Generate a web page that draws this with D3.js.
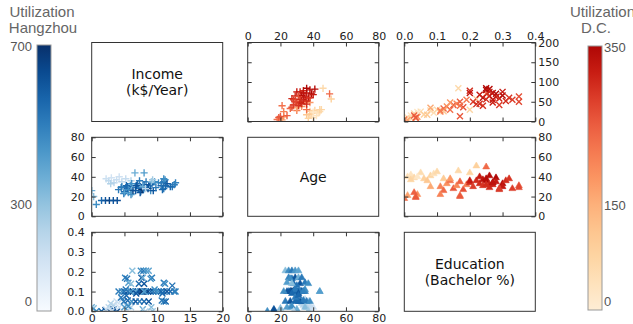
<!DOCTYPE html>
<html>
<head>
<meta charset="utf-8">
<script src="https://cdn.jsdelivr.net/npm/d3@7"></script>
<style>
  body { margin: 0; background: #fff; }
  svg { display: block; }
</style>
</head>
<body>
<svg id="chart" width="633" height="324"></svg>
<script>
// ---- Hangzhou records (income k$/yr, age, bachelor share, utilization)
const hzIncome = [1.5,2.1,2.7,3.3,3.9, 0,0.3,0.7,
  2.2,2.6,3.0,3.4,3.8,4.2,2.9,4.6,5.2,6.0,
  6.2,7.5,7.9,8.3,8.7, 5.1,5.4,7.6,7.8,9.2,9.0,
  5.6,7.2,8.0,11.0,11.2,12.3,6.0,
  4.1,4.6,5.0,5.5,5.9,6.3,6.7,7.0,7.4,7.7,8.0,8.3,8.6,9.0,9.4,9.8,10.2,10.6,11.0,11.5,12.0,12.6,6.0,6.6,8.0,5.2,6.8,9.6,10.8,12.8,
  4.9,5.5,6.1,6.7,7.3,8.0,8.7,11.0,10.7,11.3,4.5,5.3,
  5.0,5.6,7.8,9.1,9.3,8.2];
const hzAge = [16,16,16,16,16, 26,20,12,
  38,36,39,34,37,40,33,35,38,36,
  23,25,27,29,31, 25,27,29,31,33,26,
  24,28,32,35,37,30,27,
  27,30,25,28,31,26,29,33,24,27,30,35,28,32,26,29,34,31,28,33,30,32,22,44,44,29,31,35,27,34,
  23,30,33,26,36,29,32,38,34,31,29,31,
  24,27,30,35,37,28];
const hzEdu = [0.0,0.005,0.0,0.01,0.0, 0.02,0.015,0.0,
  0.01,0.02,0.0,0.03,0.05,0.02,0.04,0.06,0.03,0.02,
  0.205,0.205,0.205,0.205,0.205, 0.17,0.165,0.17,0.17,0.17,0.165,
  0.145,0.14,0.14,0.145,0.14,0.13,0.14,
  0.1,0.1,0.1,0.1,0.1,0.1,0.1,0.1,0.1,0.1,0.1,0.1,0.1,0.1,0.1,0.1,0.1,0.1,0.1,0.1,0.1,0.1,0.1,0.1,0.1,0.11,0.09,0.11,0.09,0.1,
  0.05,0.055,0.05,0.05,0.05,0.05,0.05,0.05,0.055,0.05,0.07,0.08,
  0.02,0.025,0.01,0.02,0.0,0.0];
const hzUtil = [550,600,650,600,620, 350,300,450,
  150,180,130,200,160,140,220,190,170,210,
  300,450,500,420,380, 480,520,600,350,500,450,
  400,550,600,500,450,520,300,
  500,450,550,600,400,650,500,550,600,700,450,500,650,550,600,500,450,550,500,600,550,500,450,350,400,500,600,450,550,480,
  500,550,450,600,500,550,600,450,500,550,500,550,
  400,450,350,300,250,200];

// ---- Washington D.C. records
const dcIncome = [10,15,20,25,18,28,22,30,26,24,17,8,
  5,8,12,15,4,10,
  28,33,38,30,42,45,50,36,55,48,25,40,13,35,
  84,57,30,70,
  78,72,50,45,60,84,80,75,65,55,40,70,62,58,48,66,75,52,60,55,63,50,44,68,82,72,42,56];
const dcAge = [40,42,39,44,38,41,43,45,38,40,36,37,
  18,20,22,24,21,19,
  30,26,33,36,28,31,35,27,32,38,22,21,20,30,
  46,51,44,50,
  34,36,30,33,37,36,38,32,29,34,31,39,35,27,32,33,30,36,38,28,31,29,36,40,41,34,28,32];
const dcEdu = [0.01,0.02,0.03,0.05,0.06,0.08,0.09,0.1,0.12,0.04,0.07,0.02,
  0.0,0.035,0.04,0.03,0.01,0.035,
  0.11,0.12,0.13,0.14,0.15,0.16,0.17,0.18,0.19,0.14,0.11,0.17,0.17,0.08,
  0.165,0.22,0.2,0.25,
  0.2,0.2,0.21,0.23,0.24,0.25,0.25,0.26,0.26,0.27,0.24,0.28,0.28,0.29,0.27,0.3,0.3,0.31,0.32,0.33,0.35,0.35,0.22,0.23,0.26,0.27,0.29,0.25];
const dcUtil = [40,30,60,50,80,70,40,60,90,20,100,70,
  220,200,180,240,160,250,
  200,230,180,220,250,190,240,260,210,170,200,220,250,150,
  60,80,70,230,
  300,320,280,300,330,350,340,310,300,330,290,350,320,300,310,340,320,300,290,280,260,270,300,320,340,330,280,300];

// ---- axis ticks
const incomeTicksHz = [0, 5, 10, 15, 20];
const incomeTicksDc = [0, 50, 100, 150, 200];
const ageTicks = [0, 20, 40, 60, 80];
const eduTicks = [0, 0.1, 0.2, 0.3, 0.4];
const hzBarTicks = [0, 300, 700];
const dcBarTicks = [0, 150, 350];

const svg = d3.select("#chart");
const colX = [91.7, 247.7, 404.3], rowY = [42.5, 137.3, 232.3];
const pw = 131, ph = 79;
const tickFont = "'DejaVu Sans', sans-serif";

const hzColor = d3.scaleSequential(d3.interpolateBlues).domain([0, 700]);
const dcColor = d3.scaleSequential(t => d3.interpolateOrRd(0.08 + t * 0.8)).domain([0, 350]);

const vars = {
  hzIncome: { domain: [0, 20], ticks: incomeTicksHz, fmt: d3.format("d") },
  dcIncome: { domain: [0, 200], ticks: incomeTicksDc, fmt: d3.format("d") },
  age: { domain: [0, 80], ticks: ageTicks, fmt: d3.format("d") },
  edu: { domain: [0, 0.4], ticks: eduTicks, fmt: d3.format(".1f") }
};

const hzData = hzIncome.map((d, i) => ({ hzIncome: d, age: hzAge[i], edu: hzEdu[i], util: hzUtil[i] }));
const dcData = dcIncome.map((d, i) => ({ dcIncome: d, age: dcAge[i], edu: dcEdu[i], util: dcUtil[i] }));

// marker paths
const plusPath = "M-3.6,0H3.6M0,-3.6V3.6";
const crossPath = "M-3,-3L3,3M-3,3L3,-3";
const triPath = d3.symbol().type(d3.symbolTriangle).size(20)();

const panels = [
  { r: 0, c: 1, x: "age", y: "dcIncome", data: dcData, color: dcColor, mk: "plus", lab: ["top"] },
  { r: 0, c: 2, x: "edu", y: "dcIncome", data: dcData, color: dcColor, mk: "cross", lab: ["top", "right"] },
  { r: 1, c: 0, x: "hzIncome", y: "age", data: hzData, color: hzColor, mk: "plus", lab: ["left"] },
  { r: 1, c: 2, x: "edu", y: "age", data: dcData, color: dcColor, mk: "tri", lab: ["right"] },
  { r: 2, c: 0, x: "hzIncome", y: "edu", data: hzData, color: hzColor, mk: "cross", lab: ["left", "bottom"] },
  { r: 2, c: 1, x: "age", y: "edu", data: hzData, color: hzColor, mk: "tri", lab: ["bottom"] }
];

const defs = svg.append("defs");

panels.forEach((p, k) => {
  const x0 = colX[p.c], y0 = rowY[p.r];
  const xv = vars[p.x], yv = vars[p.y];
  const xs = d3.scaleLinear().domain(xv.domain).range([0, pw]);
  const ys = d3.scaleLinear().domain(yv.domain).range([ph, 0]);
  const g = svg.append("g").attr("transform", `translate(${x0},${y0})`);

  defs.append("clipPath").attr("id", "clip" + k)
    .append("rect").attr("width", pw).attr("height", ph);

  const pts = g.append("g").attr("clip-path", `url(#clip${k})`)
    .selectAll("path").data(p.data).join("path")
    .attr("transform", d => `translate(${xs(d[p.x])},${ys(d[p.y])})`)
    .attr("d", p.mk === "plus" ? plusPath : p.mk === "cross" ? crossPath : triPath);
  if (p.mk === "tri") {
    pts.attr("fill", d => p.color(d.util)).attr("stroke", d => p.color(d.util)).attr("stroke-width", 0.6);
  } else {
    pts.attr("fill", "none").attr("stroke", d => p.color(d.util)).attr("stroke-width", 1.4);
  }

  // inward ticks on every side, labels only where the reference shows them
  const sides = [
    ["left", d3.axisLeft(ys).tickValues(yv.ticks), yv, `translate(0,0)`],
    ["right", d3.axisRight(ys).tickValues(yv.ticks), yv, `translate(${pw},0)`],
    ["top", d3.axisTop(xs).tickValues(xv.ticks), xv, `translate(0,0)`],
    ["bottom", d3.axisBottom(xs).tickValues(xv.ticks), xv, `translate(0,${ph})`]
  ];
  sides.forEach(([side, ax, v, tr]) => {
    const show = p.lab.includes(side);
    ax.tickSizeInner(-4).tickSizeOuter(0)
      .tickPadding(side === "left" ? 7 : 3)
      .tickFormat(show ? v.fmt : () => "");
    const a = g.append("g").attr("transform", tr).call(ax);
    a.select(".domain").remove();
    a.selectAll("line").attr("stroke", "#333");
    a.selectAll("text").attr("font-family", tickFont).attr("font-size", 11).attr("fill", "#222");
  });

  g.append("rect").attr("width", pw).attr("height", ph)
    .attr("fill", "none").attr("stroke", "#333").attr("stroke-width", 1);
});

// diagonal label panels
const diagLabels = [["Income", "(k$/Year)"], ["Age"], ["Education", "(Bachelor %)"]];
diagLabels.forEach((lines, i) => {
  const g = svg.append("g").attr("transform", `translate(${colX[i]},${rowY[i]})`);
  g.append("rect").attr("width", pw).attr("height", ph)
    .attr("fill", "none").attr("stroke", "#333").attr("stroke-width", 1);
  const t = g.append("text").attr("x", pw / 2).attr("y", ph / 2 + 1 - (lines.length - 1) * 8)
    .attr("text-anchor", "middle").attr("dominant-baseline", "middle")
    .attr("font-family", tickFont).attr("font-size", 14).attr("fill", "#111");
  lines.forEach((s, j) => t.append("tspan").attr("x", pw / 2).attr("dy", j === 0 ? 0 : 16).text(s));
});

// colour bars
function colorBar(x, y0, y1, interp, ticks, maxV, labelSide, title) {
  const id = "grad" + labelSide;
  const grad = defs.append("linearGradient").attr("id", id)
    .attr("x1", 0).attr("y1", 1).attr("x2", 0).attr("y2", 0);
  d3.range(0, 1.0001, 0.1).forEach(t =>
    grad.append("stop").attr("offset", t).attr("stop-color", interp(t)));
  svg.append("rect").attr("x", x).attr("y", y0).attr("width", 14).attr("height", y1 - y0)
    .attr("fill", `url(#${id})`).attr("stroke", "#999").attr("stroke-width", 1);

  const pos = d3.scalePow().exponent(1.14).domain([0, maxV]).range([303, y0 + 3]);
  svg.append("g").selectAll("text").data(ticks).join("text")
    .attr("x", labelSide === "left" ? x - 5 : x + 16)
    .attr("y", d => pos(d))
    .attr("text-anchor", labelSide === "left" ? "end" : "start")
    .attr("dominant-baseline", "middle")
    .attr("font-family", "'Liberation Sans', Arial, sans-serif").attr("font-size", 13)
    .attr("fill", "#555").text(d => d);

  const tt = svg.append("text").attr("font-family", "'Liberation Sans', Arial, sans-serif")
    .attr("font-size", 15).attr("fill", "#666");
  title.forEach((s, j) => tt.append("tspan")
    .attr("x", s.x).attr("y", 17 + j * 16).attr("text-anchor", s.anchor).text(s.text));
}

colorBar(37, 45, 311, d3.interpolateBlues, hzBarTicks, 700, "left",
  [{ text: "Utilization", x: 42, anchor: "middle" }, { text: "Hangzhou", x: 43, anchor: "middle" }]);
colorBar(588, 46, 310, t => d3.interpolateOrRd(0.08 + t * 0.8), dcBarTicks, 350, "right",
  [{ text: "Utilization", x: 570, anchor: "start" }, { text: "D.C.", x: 596, anchor: "middle" }]);
</script>
</body>
</html>
